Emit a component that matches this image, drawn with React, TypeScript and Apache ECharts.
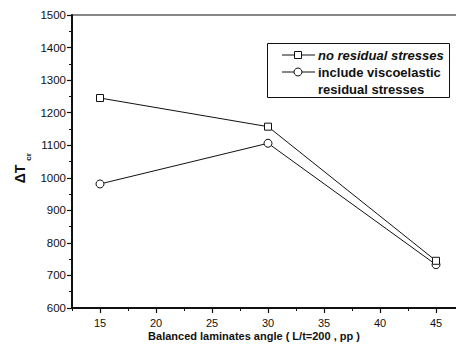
import React, { useEffect, useRef } from "react";
import * as echarts from "echarts";

// Balanced laminate angle (deg) and critical temperature rise ΔTcr
const angles = [15, 30, 45];
const noResidual = [1245, 1157, 745];
const viscoelastic = [981, 1106, 733];

const xMajorTicks = [15, 20, 25, 30, 35, 40, 45];
const seriesNames = ["no residual stresses", "include viscoelastic residual stresses"];

const INK = "#111";
const FONT = "Liberation Sans, Arial, sans-serif";

export default function App() {
  const ref = useRef<HTMLDivElement>(null);

  useEffect(() => {
    document.body.style.margin = "0";
    const chart = echarts.init(ref.current!, null, { renderer: "svg" });

    const legendRows = [55, 72];
    chart.setOption({
      animation: false,
      backgroundColor: "#fff",
      grid: {
        left: 72,
        right: -36,
        top: 15,
        bottom: 48,
        show: true,
        borderColor: INK,
        borderWidth: 1.2,
        containLabel: false,
        outerBoundsMode: "none",
      },
      xAxis: [
        {
          // minor ticks every 2.5, labels on the multiples of 5
          type: "value",
          min: 12.5,
          max: 50,
          interval: 2.5,
          position: "bottom",
          axisLine: { show: true, onZero: false, lineStyle: { color: INK, width: 2 } },
          axisTick: { show: true, inside: false, length: 3, lineStyle: { color: INK, width: 1 } },
          axisLabel: {
            color: INK,
            fontFamily: FONT,
            fontSize: 11,
            margin: 9,
            showMaxLabel: false,
            formatter: (v: number) => (xMajorTicks.includes(v) ? String(v) : ""),
          },
          splitLine: { show: false },
        },
        {
          // longer ticks at the labelled angles
          type: "value",
          min: 12.5,
          max: 50,
          interval: 2.5,
          position: "bottom",
          axisLine: { show: true, onZero: false, lineStyle: { color: INK, width: 0, opacity: 0 } },
          axisTick: {
            show: true,
            inside: false,
            length: 5,
            customValues: xMajorTicks,
            lineStyle: { color: INK, width: 1.2 },
          },
          axisLabel: { show: false },
          splitLine: { show: false },
        },
      ],
      yAxis: {
        type: "value",
        min: 600,
        max: 1500,
        interval: 100,
        axisLine: { show: true, onZero: false, lineStyle: { color: INK, width: 2 } },
        axisTick: { show: true, inside: false, length: 5, lineStyle: { color: INK, width: 1.2 } },
        minorTick: { show: true, splitNumber: 2, length: 3, lineStyle: { color: INK, width: 1 } },
        axisLabel: {
          color: INK,
          fontFamily: FONT,
          fontSize: 11.5,
          margin: 6,
          formatter: (v: number) => String(v),
        },
        splitLine: { show: false },
      },
      series: [
        {
          name: seriesNames[0],
          type: "line",
          data: angles.map((a, i) => [a, noResidual[i]]),
          symbol: "rect",
          symbolSize: 7,
          lineStyle: { color: INK, width: 1 },
          itemStyle: { color: "#fff", borderColor: INK, borderWidth: 1 },
          z: 3,
        },
        {
          name: seriesNames[1],
          type: "line",
          data: angles.map((a, i) => [a, viscoelastic[i]]),
          symbol: "circle",
          symbolSize: 8,
          lineStyle: { color: INK, width: 1 },
          itemStyle: { color: "#fff", borderColor: INK, borderWidth: 1 },
          z: 2,
        },
      ],
      graphic: [
        // y-axis title ΔT with subscript "cr"
        {
          type: "text",
          x: 20,
          y: 174,
          rotation: Math.PI / 2,
          style: {
            text: "ΔT",
            fill: INK,
            font: `bold 14px ${FONT}`,
            align: "center",
            verticalAlign: "middle",
          },
        },
        {
          type: "text",
          x: 28,
          y: 157,
          rotation: Math.PI / 2,
          style: {
            text: "cr",
            fill: INK,
            font: `bold 8px ${FONT}`,
            align: "center",
            verticalAlign: "middle",
          },
        },
        // x-axis title
        {
          type: "text",
          x: 254,
          y: 336,
          style: {
            text: "Balanced laminates angle ( L/t=200 , pp )",
            fill: INK,
            font: `bold 11px ${FONT}`,
            align: "center",
            verticalAlign: "middle",
          },
        },
        // legend box
        {
          type: "rect",
          shape: { x: 267.5, y: 43.5, width: 182, height: 54 },
          style: { fill: "#fff", stroke: INK, lineWidth: 1 },
          z: 10,
        },
        ...legendRows.map((y) => ({
          type: "line",
          shape: { x1: 282, y1: y, x2: 315, y2: y },
          style: { stroke: INK, lineWidth: 1 },
          z: 11,
        })),
        {
          type: "rect",
          shape: { x: 294.5, y: legendRows[0] - 3.5, width: 7, height: 7 },
          style: { fill: "#fff", stroke: INK, lineWidth: 1 },
          z: 12,
        },
        {
          type: "circle",
          shape: { cx: 298, cy: legendRows[1], r: 4 },
          style: { fill: "#fff", stroke: INK, lineWidth: 1 },
          z: 12,
        },
        {
          type: "text",
          x: 318,
          y: legendRows[0],
          style: {
            text: seriesNames[0],
            fill: INK,
            font: `italic bold 13px ${FONT}`,
            verticalAlign: "middle",
          },
          z: 12,
        },
        {
          type: "text",
          x: 318,
          y: legendRows[1] - 8.5,
          style: {
            text: "include viscoelastic\nresidual stresses",
            fill: INK,
            font: `bold 13px ${FONT}`,
            verticalAlign: "top",
            lineHeight: 17,
          },
          z: 12,
        },
      ],
    });

    return () => chart.dispose();
  }, []);

  return <div ref={ref} style={{ width: 456, height: 356 }} />;
}
